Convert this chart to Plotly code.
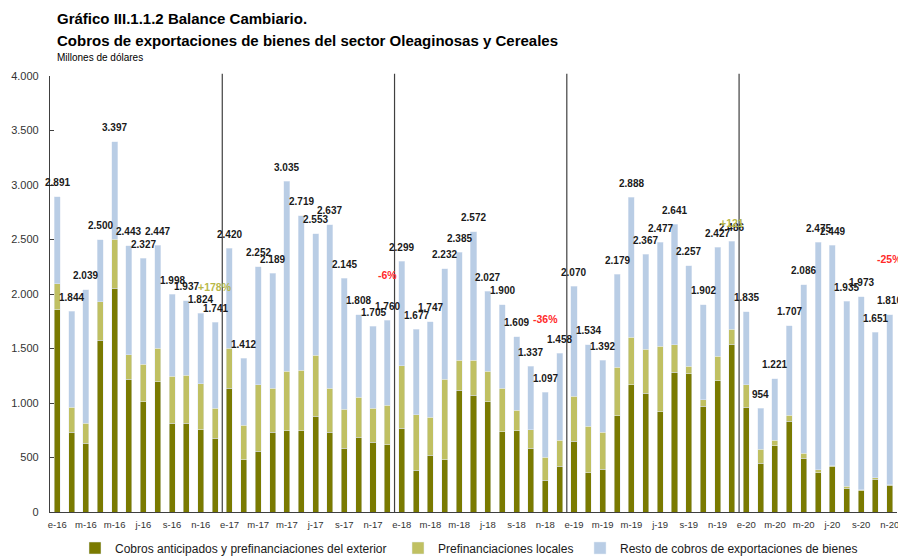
"""Balance Cambiario: cobros de exportaciones del sector Oleaginosas y Cereales."""

import plotly.graph_objects as go


MONTH_LABELS = [
    "e-16", "f-16", "m-16", "a-16", "m-16", "j-16", "j-16", "a-16", "s-16", "o-16", "n-16", "d-16",
    "e-17", "f-17", "m-17", "a-17", "m-17", "j-17", "j-17", "a-17", "s-17", "o-17", "n-17", "d-17",
    "e-18", "f-18", "m-18", "a-18", "m-18", "j-18", "j-18", "a-18", "s-18", "o-18", "n-18", "d-18",
    "e-19", "f-19", "m-19", "a-19", "m-19", "j-19", "j-19", "a-19", "s-19", "o-19", "n-19", "d-19",
    "e-20", "f-20", "m-20", "a-20", "m-20", "j-20", "j-20", "a-20", "s-20", "o-20", "n-20",
]

COBROS_EXTERIOR = [
    1855, 730, 633, 1574, 2054, 1219, 1011, 1195, 813, 813, 755, 675,
    1134, 480, 556, 730, 746, 746, 877, 730, 583, 684, 642, 617,
    770, 382, 519, 480, 1115, 1073, 1011, 736, 746, 583, 290, 418,
    651, 358, 394, 883, 1167, 1091, 920, 1280, 1268, 968, 1204, 1541,
    959, 446, 608, 831, 495, 358, 413, 220, 195, 302, 244,
]

PREFIN_LOCALES = [
    241, 229, 183, 355, 449, 224, 346, 309, 431, 440, 422, 275,
    370, 314, 611, 404, 544, 553, 559, 404, 361, 367, 308, 364,
    572, 510, 349, 740, 275, 317, 279, 398, 189, 172, 211, 242,
    413, 427, 336, 443, 434, 404, 599, 254, 67, 62, 223, 137,
    208, 132, 49, 55, 46, 30, 10, 15, 8, 10, 8,
]

TOTALES = [
    2891, 1844, 2039, 2500, 3397, 2443, 2327, 2447, 1998, 1937, 1824, 1741,
    2420, 1412, 2252, 2189, 3035, 2719, 2553, 2637, 2145, 1808, 1705, 1760,
    2299, 1677, 1747, 2232, 2385, 2572, 2027, 1900, 1609, 1337, 1097, 1458,
    2070, 1534, 1392, 2179, 2888, 2367, 2477, 2641, 2257, 1902, 2427, 2486,
    1835, 954, 1221, 1707, 2086, 2475, 2449, 1935, 1973, 1651, 1810,
]

# variaciones interanuales marcadas en el gráfico: (mes, altura, texto, tipo)
VARIACIONES = [
    (11, 2066, "+178%", "up"),
    (23, 2176, "-6%", "down"),
    (34, 1773, "-36%", "down"),
    (47, 2655, "+121", "up"),
    (58, 2324, "-25%", "down"),
]

COLOR_EXTERIOR = "#7a7a00"
COLOR_LOCALES = "#c0c062"
COLOR_RESTO = "#b9cde5"
FONT_MAIN = "Liberation Sans, Arial, sans-serif"

# the page puts the figure 8px in from the top-left corner
FIG_W = 898
FIG_H = 549
PLOT_LEFT = 42
PLOT_RIGHT = 889
PLOT_TOP = 68
PLOT_BOTTOM = 504

resto = [
    total - exterior - locales
    for total, exterior, locales in zip(TOTALES, COBROS_EXTERIOR, PREFIN_LOCALES)
]
positions = list(range(len(MONTH_LABELS)))

fig = go.Figure()

series = [
    ("Cobros anticipados y prefinanciaciones del exterior", COBROS_EXTERIOR, COLOR_EXTERIOR, "legend", 67),
    ("Prefinanciaciones locales", PREFIN_LOCALES, COLOR_LOCALES, "legend2", 390),
    ("Resto de cobros de exportaciones de bienes", resto, COLOR_RESTO, "legend3", 572),
]

legend_layouts = {}
for name, values, color, legend_id, legend_x in series:
    fig.add_trace(
        go.Bar(
            x=positions,
            y=values,
            name=name,
            marker_color=color,
            legend=legend_id,
        )
    )
    legend_layouts[legend_id] = {
        "orientation": "h",
        "x": (legend_x - PLOT_LEFT) / (PLOT_RIGHT - PLOT_LEFT),
        "xanchor": "left",
        "yref": "container",
        "y": 9 / FIG_H,
        "yanchor": "middle",
        "font": {"family": FONT_MAIN, "size": 12, "color": "#1a1a1a"},
        "bgcolor": "rgba(0,0,0,0)",
    }

# etiquetas de totales sobre cada barra
for position, total in zip(positions, TOTALES):
    fig.add_annotation(
        x=position,
        y=total,
        text=f"{total:,}".replace(",", "."),
        showarrow=False,
        yanchor="middle",
        yshift=14,
        font={"family": FONT_MAIN, "size": 10, "color": "#1a1a1a", "weight": "bold"},
    )

for position, height, label, kind in VARIACIONES:
    fig.add_annotation(
        x=position,
        y=height,
        text=label,
        showarrow=False,
        font={
            "family": FONT_MAIN,
            "size": 10.5,
            "color": "#b8b84a" if kind == "up" else "#ff2a2a",
            "weight": "bold",
        },
    )

# separadores entre años
for position, label in zip(positions, MONTH_LABELS):
    if label.startswith("e-") and position > 0:
        fig.add_shape(
            type="line",
            x0=position - 0.5,
            x1=position - 0.5,
            y0=0,
            y1=1.005,
            xref="x",
            yref="paper",
            line={"color": "#404040", "width": 1.2},
        )

# título y unidad
for text, y_px, size, bold in [
    ("Gráfico III.1.1.2 Balance Cambiario.", 11, 15, True),
    ("Cobros de exportaciones de bienes del sector Oleaginosas y Cereales", 33, 15, True),
    ("Millones de dólares", 50, 10, False),
]:
    fig.add_annotation(
        text=f"<b>{text}</b>" if bold else text,
        xref="paper",
        yref="paper",
        x=5 / (PLOT_RIGHT - PLOT_LEFT),
        y=(PLOT_BOTTOM - y_px) / (PLOT_BOTTOM - PLOT_TOP),
        xanchor="left",
        yanchor="middle",
        showarrow=False,
        font={"family": FONT_MAIN, "size": size, "color": "#000000"},
    )

fig.update_layout(
    width=FIG_W,
    height=FIG_H,
    barmode="stack",
    bargap=0.58,
    separators=",.",
    plot_bgcolor="white",
    paper_bgcolor="white",
    margin={
        "l": PLOT_LEFT,
        "r": FIG_W - PLOT_RIGHT,
        "t": PLOT_TOP,
        "b": FIG_H - PLOT_BOTTOM,
        "autoexpand": False,
    },
    font={"family": FONT_MAIN, "color": "#333333"},
    showlegend=True,
    **legend_layouts,
)

fig.update_xaxes(
    range=[-0.5, len(MONTH_LABELS) - 0.5],
    tickvals=positions[::2],
    ticktext=MONTH_LABELS[::2],
    tickfont={"size": 9.5, "color": "#333333"},
    showline=True,
    linecolor="#404040",
    linewidth=1.2,
    showgrid=False,
    ticks="",
    ticklabelstandoff=3,
)

fig.update_yaxes(
    range=[0, 4000],
    dtick=500,
    tickformat=",.0f",
    tickfont={"size": 11, "color": "#333333"},
    showline=True,
    linecolor="#404040",
    linewidth=1.2,
    showgrid=False,
    zeroline=False,
    ticks="inside",
    ticklen=4,
    tickcolor="#404040",
    ticklabelstandoff=8,
)

fig.write_html("out.html")
